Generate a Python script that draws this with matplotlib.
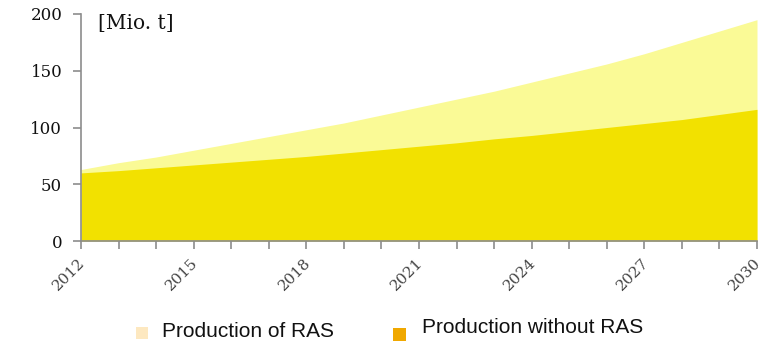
import matplotlib
matplotlib.use("Agg")
import matplotlib.pyplot as plt
import matplotlib.transforms as mtransforms
from matplotlib.patches import Rectangle

years = list(range(2012, 2031))
total_with_ras = [63, 69, 74, 80, 86, 92, 98, 104, 111, 118, 125, 132, 140, 148, 156, 165, 175, 185, 195]
without_ras = [60, 62, 64.5, 67, 69.5, 72, 74.5, 77.5, 80.5, 83.5, 86.5, 90, 93, 96.5, 100, 103.5, 107, 111.5, 116]
label_years = [2012, 2015, 2018, 2021, 2024, 2027, 2030]
y_ticks = [0, 50, 100, 150, 200]
legend_labels = ["Production of RAS", "Production without RAS"]

fig = plt.figure(figsize=(7.65, 3.41), dpi=100)
ax = fig.add_axes([81/765, 1-241/341, 676/765, 227/341])

ax.fill_between(years, 0, total_with_ras, color="#FAFA96", linewidth=0)
ax.fill_between(years, 0, without_ras, color="#F2E100", linewidth=0)

ax.set_xlim(2012, 2030)
ax.set_ylim(0, 200)
ax.set_xticks(years)
ax.set_xticklabels([])
offset = mtransforms.ScaledTranslation(-3/100, -15/100, fig.dpi_scale_trans)
for y in label_years:
    ax.text(y, 0, str(y), transform=ax.get_xaxis_transform() + offset,
            rotation=45, ha="right", va="top", rotation_mode="anchor",
            family="DejaVu Serif", fontsize=11, color="#444444")
ax.set_yticks(y_ticks)
ax.set_yticklabels([str(v) for v in y_ticks], family="DejaVu Serif", fontsize=12, color="#111111")

for s in ["top", "right"]:
    ax.spines[s].set_visible(False)
for s in ["left", "bottom"]:
    ax.spines[s].set_color("#8c8c8c")
    ax.spines[s].set_linewidth(1.2)
ax.tick_params(axis="both", color="#8c8c8c", length=5.5, width=1.2, direction="out")
ax.tick_params(axis="y", pad=8)

fig.text(98/765, 1-23/341, "[Mio. t]", family="DejaVu Serif", fontsize=14.5,
         va="center", ha="left", color="#111111")

# legend
fig.patches.append(Rectangle((136/765, 1-339/341), 12/765, 12/341, transform=fig.transFigure,
                             facecolor="#FDE8C0", edgecolor="none"))
fig.text(162/765, 1-337/341, legend_labels[0], family="Liberation Sans", fontsize=15,
         va="baseline", ha="left", color="#111111")
fig.patches.append(Rectangle((393/765, 1-341/341), 13/765, 13/341, transform=fig.transFigure,
                             facecolor="#F0A800", edgecolor="none"))
fig.text(422/765, 1-333/341, legend_labels[1], family="Liberation Sans", fontsize=15,
         va="baseline", ha="left", color="#111111")

fig.savefig("out.png", dpi=100)
